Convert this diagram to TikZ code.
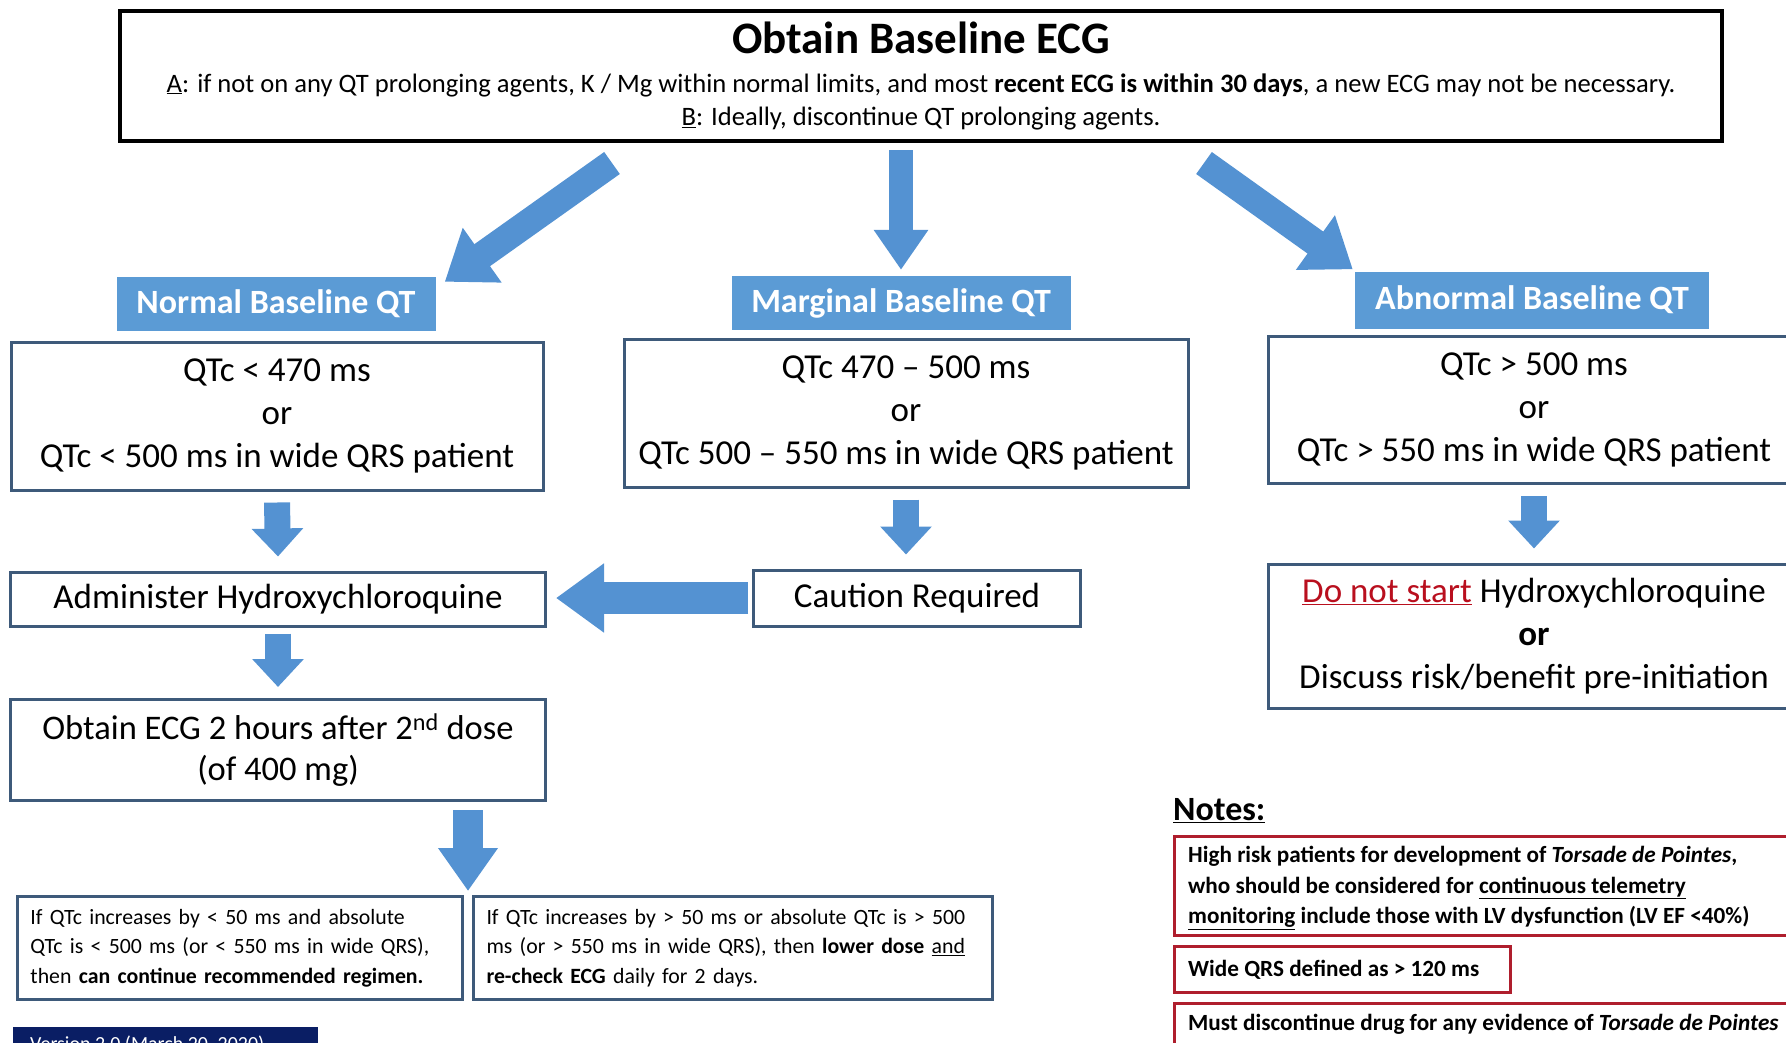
\documentclass[tikz,border=0pt]{standalone}
\usepackage{fontspec}
\setmainfont{Carlito}
\usetikzlibrary{arrows.meta,calc}
\definecolor{ablue}{RGB}{84,146,210}
\definecolor{hblue}{RGB}{91,155,213}
\definecolor{boxc}{RGB}{62,90,122}
\definecolor{nred}{RGB}{175,30,45}
\definecolor{dred}{RGB}{185,15,30}
\definecolor{navyc}{RGB}{10,30,100}
\begin{document}
\begin{tikzpicture}[x=1pt,y=-1pt,
  box/.style={draw=boxc,line width=3pt,fill=white,inner sep=0pt,align=center},
  hdr/.style={fill=hblue,text=white,inner sep=0pt,font=\fontsize{34}{40}\selectfont\bfseries},
  big/.style={font=\fontsize{35}{43}\selectfont},
  small/.style={font=\fontsize{21.8}{29.5}\selectfont,align=left},
  note/.style={draw=nred,line width=3pt,fill=white,inner sep=0pt},
  notetext/.style={font=\fontsize{23.2}{30.5}\selectfont\bfseries,align=left,inner sep=0pt,anchor=west},
  barrow/.style={draw=ablue,line cap=butt}
]
\useasboundingbox (0,0) rectangle (1786,1042);
% top box
\node[draw=black,line width=4.5pt,minimum width=1602pt,minimum height=130pt,inner sep=0pt] (top) at (921,76) {};
\node[font=\fontsize{45}{52}\selectfont\bfseries] (title) at (921,38) {Obtain Baseline ECG};
\node[font=\fontsize{26.6}{30}\selectfont] (lineA) at (921,85) {\underline{A}: if not on any QT prolonging agents, K / Mg within normal limits, and most \textbf{recent ECG is within 30 days}, a new ECG may not be necessary.};
\node[font=\fontsize{26.6}{30}\selectfont] (lineB) at (921,119) {\underline{B}: Ideally, discontinue QT prolonging agents.};
% headers
\node[hdr,minimum width=319pt,minimum height=54pt] (hN) at (276,304) {Normal Baseline QT};
\node[hdr,minimum width=339pt,minimum height=54pt] (hM) at (901,303) {Marginal Baseline QT};
\node[hdr,minimum width=354pt,minimum height=57pt] (hA) at (1532,300) {Abnormal Baseline QT};
% condition boxes
\node[box,big,minimum width=532pt,minimum height=148pt] (cN) at (277,416) {QTc < 470 ms\\or\\QTc < 500 ms in wide QRS patient};
\node[box,big,minimum width=564pt,minimum height=148pt] (cM) at (906,413) {QTc 470 -- 500 ms\\or\\QTc 500 -- 550 ms in wide QRS patient};
\node[box,big,minimum width=532pt,minimum height=147pt] (cA) at (1534,410) {QTc > 500 ms\\or\\QTc > 550 ms in wide QRS patient};
% actions
\node[box,big,minimum width=535pt,minimum height=54pt] (admin) at (278,599) {Administer Hydroxychloroquine};
\node[box,big,minimum width=327pt,minimum height=56pt] (caution) at (917,598) {Caution Required};
\node[box,big,minimum width=532pt,minimum height=144pt] (dns) at (1534,636) {{\color{dred}\underline{Do not start}} Hydroxychloroquine\\\textbf{or}\\Discuss risk/benefit pre-initiation};
\node[box,font=\fontsize{34.5}{41}\selectfont,minimum width=535pt,minimum height=101pt] (ecg) at (278,750) {Obtain ECG 2 hours after 2\textsuperscript{nd} dose\\(of 400 mg)};
% bottom boxes
\node[box,small,minimum width=445pt,minimum height=103pt,text width=419pt] (bL) at (240,948) {If QTc increases by < 50 ms and absolute\\QTc is < 500 ms (or < 550 ms in wide QRS),\\then \textbf{can continue recommended regimen.}};
\node[box,small,minimum width=519pt,minimum height=103pt,text width=493pt] (bR) at (733,948) {If QTc increases by > 50 ms or absolute QTc is > 500\\ms (or > 550 ms in wide QRS), then \textbf{lower dose} \underline{and}\\\textbf{re-check ECG} daily for 2 days.};
% version tag
\node[fill=navyc,minimum width=305pt,minimum height=30pt,inner sep=0pt,anchor=north west] (ver) at (13,1027) {};
\node[font=\fontsize{20}{24}\selectfont,text=white,inner sep=0pt,anchor=north west] (vert) at (30,1036) {Version 2.0 (March 20, 2020)};
% notes
\node[font=\fontsize{34}{40}\selectfont\bfseries,anchor=west,inner sep=0pt] (notes) at (1173,811) {\underline{Notes:}};
\node[note,minimum width=627pt,minimum height=99pt,anchor=north west] (n1) at (1173,835) {};
\node[notetext] (n1t) at (1188,888) {High risk patients for development of \textit{Torsade de Pointes},\\who should be considered for \underline{continuous telemetry}\\\underline{monitoring} include those with LV dysfunction (LV EF <40\%)};
\node[note,minimum width=336pt,minimum height=46pt,anchor=north west] (n2) at (1173,945) {};
\node[notetext] (n2t) at (1188,970) {Wide QRS defined as > 120 ms};
\node[note,minimum width=627pt,minimum height=60pt,anchor=north west] (n3) at (1173,1002) {};
\node[notetext] (n3t) at (1188,1024) {Must discontinue drug for any evidence of \textit{Torsade de Pointes}};
% arrows
\coordinate (tl) at (612,163);
\coordinate (tr) at (1204,163);
\draw[barrow,line width=27pt,-{Triangle[width=64pt,length=46pt]}] (tl) -- ([xshift=9pt,yshift=-5pt]hN.north east);
\draw[barrow,line width=24pt,-{Triangle[width=52pt,length=40pt]}] ([yshift=-7pt]top.south -| hM.north) -- ([yshift=6pt]hM.north);
\draw[barrow,line width=27pt,-{Triangle[width=64pt,length=46pt]}] (tr) -- ([xshift=-2pt,yshift=2pt]hA.north west);
\draw[barrow,line width=26pt,-{Triangle[width=50pt,length=28pt]}] ([yshift=-11pt]cN.south) -- ([yshift=14pt]admin.north);
\draw[barrow,line width=26pt,-{Triangle[width=50pt,length=28pt]}] ([yshift=-11pt]cM.south) -- ([yshift=14pt]cM.south |- caution.north);
\draw[barrow,line width=26pt,-{Triangle[width=50pt,length=28pt]}] ([yshift=-11pt]cA.south) -- ([yshift=14pt]dns.north);
\draw[barrow,line width=26pt,-{Triangle[width=50pt,length=28pt]}] ([yshift=-6pt]admin.south) -- ([yshift=11pt]ecg.north);
\draw[barrow,line width=32pt,-{Triangle[width=66pt,length=48pt]}] ([xshift=-4pt]caution.west) -- ([xshift=9pt]caution.west -| admin.east);
\coordinate (split) at ($(bL.north east)!0.5!(bR.north west)$);
\draw[barrow,line width=30pt,-{Triangle[width=57pt,length=43pt]}] ([yshift=-8pt]ecg.south -| split) -- ([yshift=4pt]split);
\end{tikzpicture}
\end{document}
